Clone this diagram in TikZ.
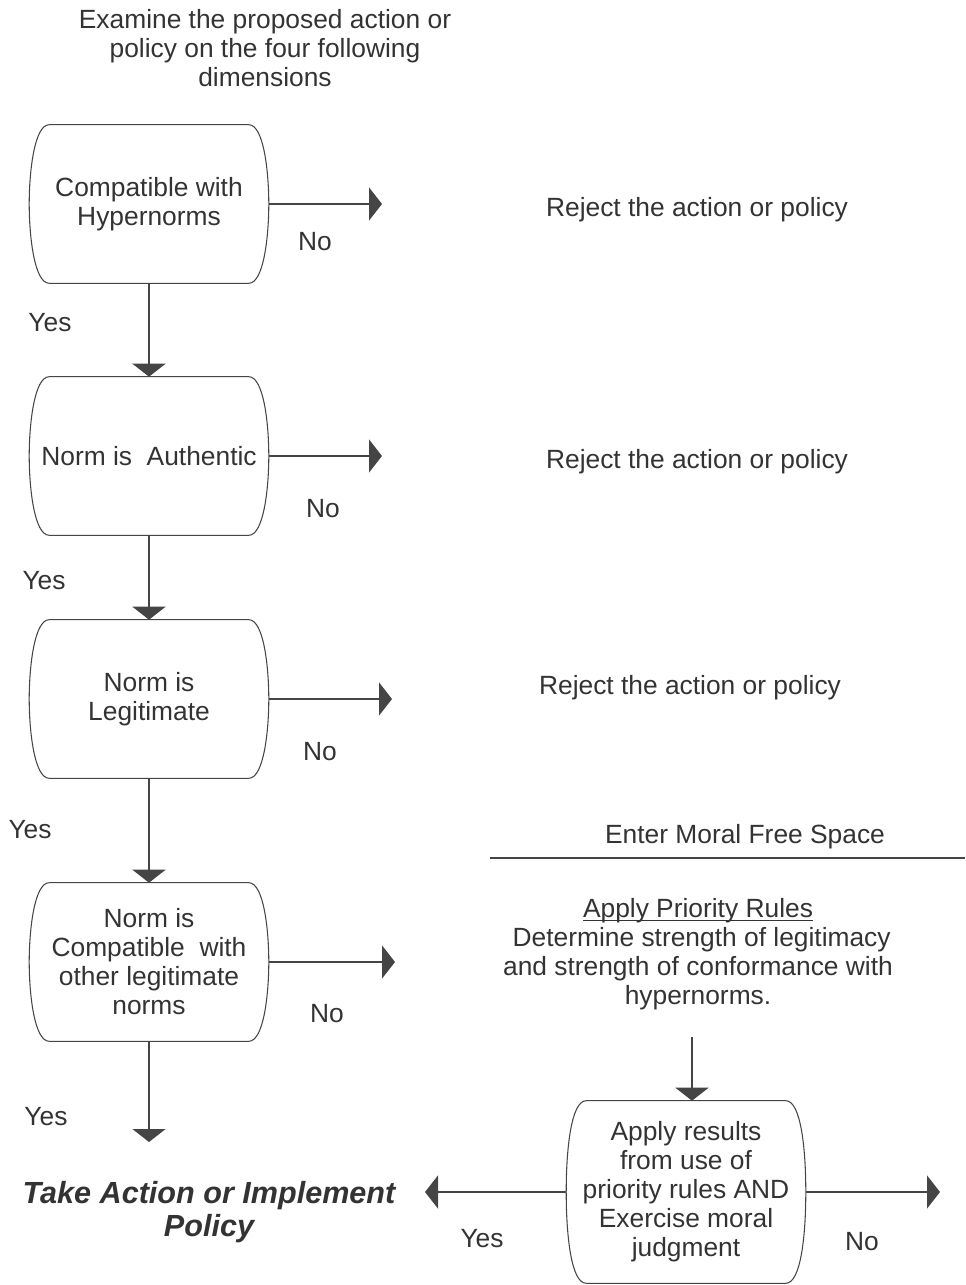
\documentclass[tikz,border=0pt]{standalone}
\usepackage{fontspec}
\setmainfont{Liberation Sans}
\usetikzlibrary{arrows.meta,positioning,calc}

\definecolor{ink}{HTML}{333333}
\definecolor{wire}{HTML}{454545}

\tikzset{
  txt/.style={font=\fontsize{15}{16.5}\selectfont, text=ink, align=center, inner sep=0pt},
  normbox/.style={txt, minimum width=4.76cm, minimum height=3.14cm},
  outline/.style={draw=wire, line width=0.6pt, -},
}

\begin{document}
\begin{tikzpicture}[->,>={Triangle[width=0.66cm,length=0.26cm]},line width=0.9pt,draw=wire,color=wire]
\useasboundingbox (0,0) rectangle (19.3,-25.7);

\node[txt] (intro) at (5.3,-0.96) {Examine the proposed action or\\policy on the four following\\dimensions};

\node[normbox] (hyper)  at (2.98,-4.08)  {Compatible with\\Hypernorms};
\node[normbox] (auth)   at (2.98,-9.12)  {Norm is\ \ Authentic};
\node[normbox] (legit)  at (2.98,-13.98) {Norm is\\Legitimate};
\node[normbox] (compat) at (2.98,-19.24) {Norm is\\Compatible\ \ with\\other legitimate\\norms};
\node[normbox,minimum height=3.62cm] (apply) at (13.72,-23.84) {Apply results\\from use of\\priority rules AND\\Exercise moral\\judgment};

\foreach \n in {hyper,auth,legit,compat,apply}
  \draw[outline] ($(\n.north west)+(0.4,0)$) -- ($(\n.north east)+(-0.4,0)$)
    .. controls ($(\n.north east)+(-0.1,0)$) and ($(\n.north east)+(0,-0.95)$) .. (\n.east)
    .. controls ($(\n.south east)+(0,0.95)$) and ($(\n.south east)+(-0.1,0)$) .. ($(\n.south east)+(-0.4,0)$)
    -- ($(\n.south west)+(0.4,0)$)
    .. controls ($(\n.south west)+(0.1,0)$) and ($(\n.south west)+(0,0.95)$) .. (\n.west)
    .. controls ($(\n.north west)+(0,-0.95)$) and ($(\n.north west)+(0.1,0)$) .. cycle;

\node[txt] (rej1) at (13.94,-4.2)   {Reject the action or policy};
\node[txt] (rej2) at (13.94,-9.24)  {Reject the action or policy};
\node[txt] (rej3) at (13.8,-13.76)  {Reject the action or policy};

\node[txt] (enter) at (14.9,-16.74) {Enter Moral Free Space};
\node[txt] (prio) at (13.96,-19.28) {\underline{\smash{Apply Priority Rules}}\\\ Determine strength of legitimacy\\and strength of conformance with\\hypernorms.};

\node[txt,font=\fontsize{17.4}{18.8}\selectfont\bfseries\itshape] (take) at (4.18,-24.24) {Take Action or Implement\\Policy};

\node[txt] (no1) at (6.3,-4.84)   {No};
\node[txt] (no2) at (6.46,-10.18) {No};
\node[txt] (no3) at (6.4,-15.04)  {No};
\node[txt] (no4) at (6.54,-20.28) {No};
\node[txt] (no5) at (17.24,-24.84) {No};
\node[txt] (yes1) at (1.0,-6.46)  {Yes};
\node[txt] (yes2) at (0.88,-11.62) {Yes};
\node[txt] (yes3) at (0.6,-16.6) {Yes};
\node[txt] (yes4) at (0.92,-22.34) {Yes};
\node[txt] (yes5) at (9.64,-24.78) {Yes};

\coordinate (r1) at (7.64,-4.08);
\coordinate (r2) at (7.64,-9.12);
\coordinate (r3) at (7.84,-13.98);
\coordinate (r4) at (7.9,-19.24);
\coordinate (r5) at (18.8,-23.84);
\coordinate (l5) at (8.5,-23.84);
\coordinate (d4) at (2.98,-22.84);
\coordinate (pstart) at (13.84,-20.74);
\coordinate (sepa) at (9.8,-17.16);
\coordinate (sepb) at (19.3,-17.16);

\path
(hyper)  edge (auth)
         edge (r1)
(auth)   edge (legit)
         edge (r2)
(legit)  edge (compat)
         edge (r3)
(compat) edge (d4)
         edge (r4)
(apply)  edge (r5)
         edge (l5);
\draw (pstart) -- (pstart |- apply.north);
\draw[-,line width=0.7pt] (sepa) -- (sepb);
\end{tikzpicture}
\end{document}
